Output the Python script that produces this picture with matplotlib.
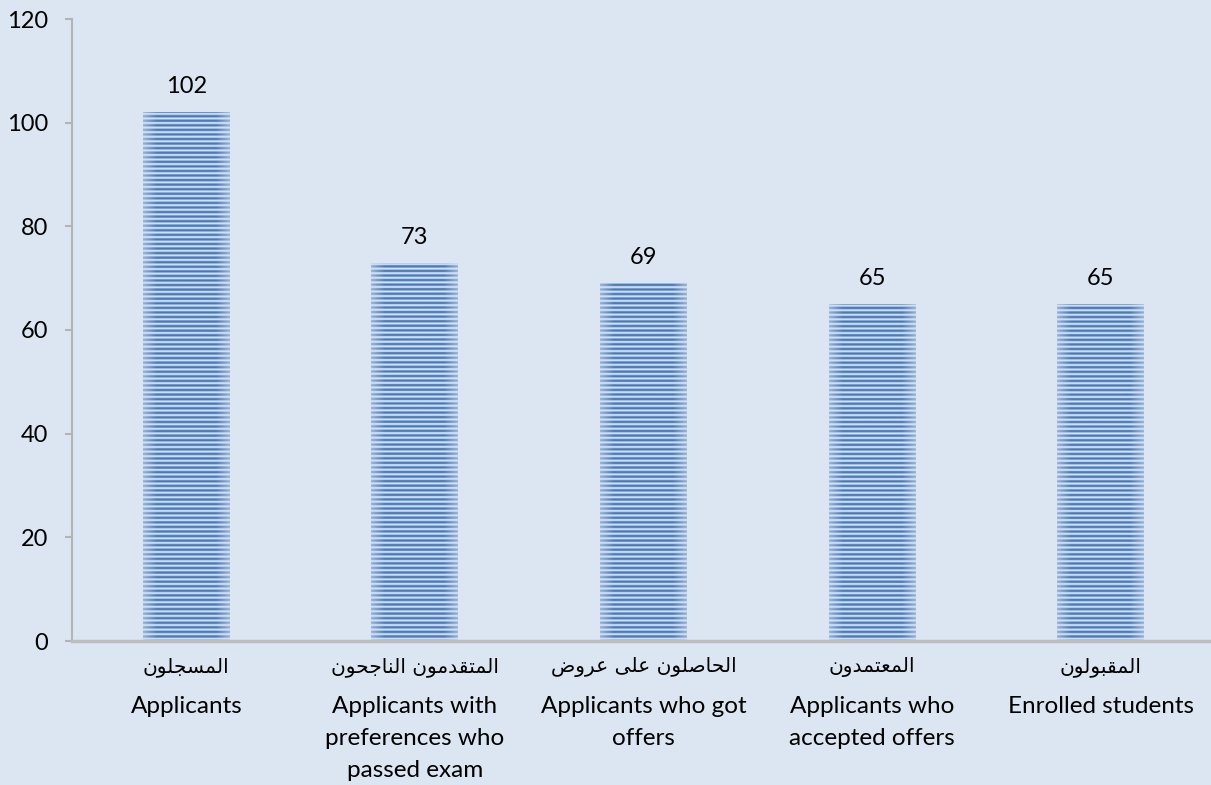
import numpy as np
from matplotlib import pyplot as plt
from matplotlib.colors import to_rgb


categories_ar = ['المسجلون', 'المتقدمون الناجحون', 'الحاصلون على عروض', 'المعتمدون', 'المقبولون']
categories_en = ['Applicants', 'Applicants with\npreferences who\npassed exam',
                 'Applicants who got\noffers', 'Applicants who\naccepted offers',
                 'Enrolled students']
values = [102, 73, 69, 65, 65]
yticks = [0, 20, 40, 60, 80, 100, 120]

# presentation forms: isolated, final, initial, medial
FORMS = {
    'ا': (0xFE8D, 0xFE8E, None, None),
    'ب': (0xFE8F, 0xFE90, 0xFE91, 0xFE92),
    'ت': (0xFE95, 0xFE96, 0xFE97, 0xFE98),
    'ج': (0xFE9D, 0xFE9E, 0xFE9F, 0xFEA0),
    'ح': (0xFEA1, 0xFEA2, 0xFEA3, 0xFEA4),
    'د': (0xFEA9, 0xFEAA, None, None),
    'ر': (0xFEAD, 0xFEAE, None, None),
    'س': (0xFEB1, 0xFEB2, 0xFEB3, 0xFEB4),
    'ص': (0xFEB9, 0xFEBA, 0xFEBB, 0xFEBC),
    'ض': (0xFEBD, 0xFEBE, 0xFEBF, 0xFEC0),
    'ع': (0xFEC9, 0xFECA, 0xFECB, 0xFECC),
    'ق': (0xFED5, 0xFED6, 0xFED7, 0xFED8),
    'ل': (0xFEDD, 0xFEDE, 0xFEDF, 0xFEE0),
    'م': (0xFEE1, 0xFEE2, 0xFEE3, 0xFEE4),
    'ن': (0xFEE5, 0xFEE6, 0xFEE7, 0xFEE8),
    'و': (0xFEED, 0xFEEE, None, None),
    'ى': (0xFEEF, 0xFEF0, None, None),
}


def shape_arabic(text):
    # join letters into their contextual forms, then lay out right to left
    out = []
    for i, ch in enumerate(text):
        if ch not in FORMS:
            out.append(ch)
            continue
        f = FORMS[ch]
        dual = f[2] is not None
        prev = i > 0 and text[i - 1] in FORMS and FORMS[text[i - 1]][2] is not None
        nxt = dual and i + 1 < len(text) and text[i + 1] in FORMS
        if prev and nxt:
            code = f[3]
        elif prev:
            code = f[1]
        elif nxt:
            code = f[2]
        else:
            code = f[0]
        out.append(chr(code))
    return ''.join(reversed(out))


bg = '#dce6f2'
axis_col = '#b4b4b4'
dark = np.array(to_rgb('#4679b9'))
light = np.array(to_rgb('#d6e2f3'))
period = 0.88
bar_w = 0.38
latin = ['Lato', 'DejaVu Sans']
fs = 17
fs_cat = 17.5

fig = plt.figure(figsize=(12.11, 7.85), dpi=100, facecolor=bg)
ax = fig.add_axes([72 / 1211, 1 - 641 / 785, 1143 / 1211, 622 / 785])
ax.set_facecolor(bg)

x = np.arange(len(values))
bars = ax.bar(x, values, width=bar_w, color='none', edgecolor='none', zorder=2)

# striped fill with softened left/right edges
for rect, v in zip(bars, values):
    ny = int(v / period * 8)
    nx = 60
    yy = (np.arange(ny) + 0.5) / ny * v
    xx = (np.arange(nx) + 0.5) / nx
    s = 0.5 + 0.5 * np.cos(2 * np.pi * yy / period)
    s = np.clip((s - 0.15) / 0.6, 0, 1)
    edge = np.minimum(xx, 1 - xx)
    fade = 0.45 + 0.55 * np.clip(edge / 0.16, 0, 1)
    amt = s[:, None] * fade[None, :]
    img = light[None, None, :] + (dark - light)[None, None, :] * amt[:, :, None]
    x0 = rect.get_x()
    im = ax.imshow(img, extent=(x0, x0 + rect.get_width(), 0, v), origin='lower',
                   aspect='auto', interpolation='bilinear', zorder=2)
    im.set_clip_path(rect)
    ax.text(rect.get_x() + rect.get_width() / 2, v + 2.9, str(v), ha='center', va='bottom',
            fontsize=fs, family=latin, color='#000000')

ax.set_xlim(-0.5, len(values) - 0.5)
ax.set_ylim(0, 120)
ax.set_yticks(yticks)
ax.set_yticklabels([str(t) for t in yticks], family=latin, fontsize=fs)

# English names as tick labels, Arabic names on a line above them
ax.set_xticks(x)
ax.set_xticklabels(categories_en, family=latin, fontsize=fs_cat, linespacing=1.64)
for xi, name in zip(x, categories_ar):
    ax.annotate(shape_arabic(name), xy=(xi, 0), xytext=(0, -18.5), textcoords='offset points',
                ha='center', va='center', fontsize=14.5, family=['DejaVu Sans'],
                annotation_clip=False)

ax.tick_params(axis='x', length=0, pad=39.5)
ax.tick_params(axis='y', length=5, width=1.5, color=axis_col, pad=12)
for side in ['top', 'right']:
    ax.spines[side].set_visible(False)
ax.spines['left'].set_color(axis_col)
ax.spines['left'].set_linewidth(1.5)
ax.spines['bottom'].set_color('#bdbdbd')
ax.spines['bottom'].set_linewidth(2.5)

fig.savefig('out.png', dpi=100, facecolor=bg)
